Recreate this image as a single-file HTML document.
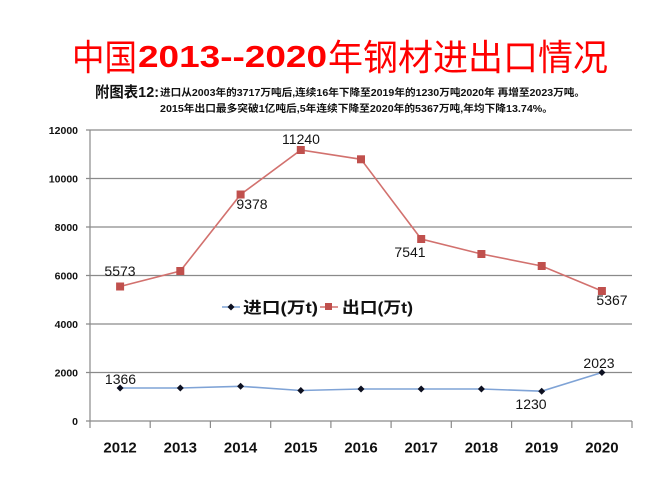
<!DOCTYPE html>
<html>
<head>
<meta charset="utf-8">
<style>
html,body{margin:0;padding:0;background:#fff;}
svg{display:block;}
</style>
</head>
<body>
<svg width="660" height="495" viewBox="0 0 660 495" xmlns="http://www.w3.org/2000/svg">
<rect width="660" height="495" fill="#fff"/>

<!-- Title -->
<text x="72" y="70" font-family="'Noto Sans CJK SC', sans-serif" font-size="36" fill="#ff0000" textLength="65" lengthAdjust="spacingAndGlyphs">中国</text>
<text x="138" y="67" font-family="'Liberation Sans', sans-serif" font-weight="bold" font-size="31" fill="#ff0000" textLength="189" lengthAdjust="spacingAndGlyphs">2013--2020</text>
<text x="328" y="70" font-family="'Noto Sans CJK SC', sans-serif" font-size="36" fill="#ff0000" textLength="280" lengthAdjust="spacingAndGlyphs">年钢材进出口情况</text>

<!-- Subtitle -->
<text x="95" y="97" font-family="'Liberation Sans','Noto Sans CJK SC', sans-serif" font-weight="bold" font-size="15" fill="#111" textLength="64" lengthAdjust="spacingAndGlyphs">附图表12:</text>
<text x="160" y="96" font-family="'Liberation Sans','Noto Sans CJK SC', sans-serif" font-weight="bold" font-size="10" fill="#111" textLength="425" lengthAdjust="spacingAndGlyphs">进口从2003年的3717万吨后,连续16年下降至2019年的1230万吨2020年 再增至2023万吨。</text>
<text x="160" y="112" font-family="'Liberation Sans','Noto Sans CJK SC', sans-serif" font-weight="bold" font-size="10" fill="#111" textLength="393" lengthAdjust="spacingAndGlyphs">2015年出口最多突破1亿吨后,5年连续下降至2020年的5367万吨,年均下降13.74%。</text>

<!-- Gridlines -->
<g stroke="#8a8a8a" stroke-width="1.2">
<line x1="86" y1="130" x2="632" y2="130"/>
<line x1="86" y1="178.5" x2="632" y2="178.5"/>
<line x1="86" y1="227" x2="632" y2="227"/>
<line x1="86" y1="275.5" x2="632" y2="275.5"/>
<line x1="86" y1="324" x2="632" y2="324"/>
<line x1="86" y1="372.5" x2="632" y2="372.5"/>
<line x1="86" y1="421" x2="632" y2="421"/>
<line x1="90" y1="130" x2="90" y2="421"/>
<!-- x ticks -->
<line x1="90" y1="421" x2="90" y2="428"/>
<line x1="150.2" y1="421" x2="150.2" y2="428"/>
<line x1="210.4" y1="421" x2="210.4" y2="428"/>
<line x1="270.7" y1="421" x2="270.7" y2="428"/>
<line x1="330.9" y1="421" x2="330.9" y2="428"/>
<line x1="391.1" y1="421" x2="391.1" y2="428"/>
<line x1="451.3" y1="421" x2="451.3" y2="428"/>
<line x1="511.6" y1="421" x2="511.6" y2="428"/>
<line x1="571.8" y1="421" x2="571.8" y2="428"/>
<line x1="632" y1="421" x2="632" y2="428"/>
</g>

<!-- Y labels -->
<g font-family="'Liberation Sans', sans-serif" font-weight="bold" font-size="10.5" fill="#111" text-anchor="end">
<text x="78" y="134">12000</text>
<text x="78" y="182.5">10000</text>
<text x="78" y="231">8000</text>
<text x="78" y="279.5">6000</text>
<text x="78" y="328">4000</text>
<text x="78" y="376.5">2000</text>
<text x="78" y="425">0</text>
</g>

<!-- X labels -->
<g font-family="'Liberation Sans', sans-serif" font-weight="bold" font-size="15" fill="#111" text-anchor="middle">
<text x="120.1" y="452.5">2012</text>
<text x="180.3" y="452.5">2013</text>
<text x="240.6" y="452.5">2014</text>
<text x="300.8" y="452.5">2015</text>
<text x="361" y="452.5">2016</text>
<text x="421.2" y="452.5">2017</text>
<text x="481.4" y="452.5">2018</text>
<text x="541.7" y="452.5">2019</text>
<text x="601.9" y="452.5">2020</text>
</g>

<!-- Export series -->
<polyline fill="none" stroke="#d2716e" stroke-width="1.6" points="120.1,286.5 180.3,271 240.6,194.5 300.8,150 361,159.3 421.2,239 481.4,254 541.7,266 601.9,291"/>
<g fill="#c0504d">
<rect x="116.1" y="282.5" width="8" height="8"/>
<rect x="176.3" y="267" width="8" height="8"/>
<rect x="236.6" y="190.5" width="8" height="8"/>
<rect x="296.8" y="146" width="8" height="8"/>
<rect x="357" y="155.3" width="8" height="8"/>
<rect x="417.2" y="235" width="8" height="8"/>
<rect x="477.4" y="250" width="8" height="8"/>
<rect x="537.7" y="262" width="8" height="8"/>
<rect x="597.9" y="287" width="8" height="8"/>
</g>

<!-- Import series -->
<polyline fill="none" stroke="#7fa3d6" stroke-width="1.6" points="120.1,388 180.3,388 240.6,386.3 300.8,390.5 361,389 421.2,389 481.4,389 541.7,391.2 601.9,372.5"/>
<g fill="#0d1020">
<polygon points="120.1,384.5 123.6,388 120.1,391.5 116.6,388"/>
<polygon points="180.3,384.5 183.8,388 180.3,391.5 176.8,388"/>
<polygon points="240.6,382.8 244.1,386.3 240.6,389.8 237.1,386.3"/>
<polygon points="300.8,387 304.3,390.5 300.8,394 297.3,390.5"/>
<polygon points="361,385.5 364.5,389 361,392.5 357.5,389"/>
<polygon points="421.2,385.5 424.7,389 421.2,392.5 417.7,389"/>
<polygon points="481.4,385.5 484.9,389 481.4,392.5 477.9,389"/>
<polygon points="541.7,387.7 545.2,391.2 541.7,394.7 538.2,391.2"/>
<polygon points="601.9,369 605.4,372.5 601.9,376 598.4,372.5"/>
</g>

<!-- Data labels -->
<g font-family="'Liberation Sans', sans-serif" font-size="14" fill="#141414" text-anchor="middle">
<text x="120" y="276">5573</text>
<text x="252" y="209">9378</text>
<text x="301" y="144">11240</text>
<text x="410" y="257">7541</text>
<text x="612" y="305">5367</text>
<text x="120.5" y="384">1366</text>
<text x="531" y="409">1230</text>
<text x="599" y="368">2023</text>
</g>

<!-- Legend -->
<line x1="222" y1="307" x2="240" y2="307" stroke="#7fa3d6" stroke-width="1.6"/>
<polygon points="231,303.5 234.5,307 231,310.5 227.5,307" fill="#0d1020"/>
<text x="243" y="313" font-family="'Liberation Sans','Noto Sans CJK SC', sans-serif" font-weight="bold" font-size="16" fill="#111" textLength="75" lengthAdjust="spacingAndGlyphs">进口(万t)</text>
<line x1="320" y1="307" x2="338" y2="307" stroke="#d2716e" stroke-width="1.6"/>
<rect x="325" y="303" width="7" height="7" fill="#c0504d"/>
<text x="342" y="313" font-family="'Liberation Sans','Noto Sans CJK SC', sans-serif" font-weight="bold" font-size="16" fill="#111" textLength="71" lengthAdjust="spacingAndGlyphs">出口(万t)</text>
</svg>
</body>
</html>
